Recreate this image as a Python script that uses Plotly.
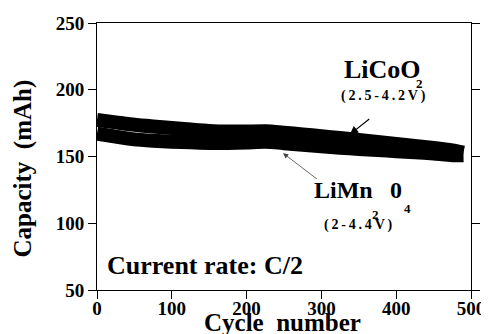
import plotly.graph_objects as go

cycles = [0, 25, 50, 75, 100, 125, 150, 175, 200, 225, 250, 275, 300, 325, 350, 375, 400, 425, 450, 475, 490]
licoo2 = [177.4, 175.6, 173.8, 172.5, 171.3, 170.2, 169.2, 168.7, 168.7, 168.9, 167.8, 166.5, 165.2,
          163.8, 162.4, 160.9, 159.3, 157.9, 156.4, 154.6, 153.0]
limn2o4 = [167.2, 164.9, 162.8, 161.8, 161.1, 160.6, 160.2, 160.1, 160.4, 161.0, 160.0, 158.8, 157.6,
           156.5, 155.7, 154.8, 154.0, 153.2, 152.2, 151.0, 151.0]

x_ticks = [0, 100, 200, 300, 400, 500]
y_ticks = [50, 100, 150, 200, 250]

SERIF = "Liberation Serif"
TS = "&#8201;"

fig = go.Figure()
fig.add_trace(go.Scatter(x=cycles, y=limn2o4, mode="lines",
                         line=dict(color="black", width=14, shape="spline", smoothing=0.6),
                         showlegend=False))
fig.add_trace(go.Scatter(x=cycles, y=licoo2, mode="lines",
                         line=dict(color="black", width=14, shape="spline", smoothing=0.6),
                         showlegend=False))

def txt(x, y, t, size, xanchor="center", xref="x", yref="y", angle=0):
    fig.add_annotation(x=x, y=y, text=t, showarrow=False, xanchor=xanchor, yanchor="middle",
                       xref=xref, yref=yref, textangle=angle,
                       font=dict(family=SERIF, size=size, color="black", weight="bold"))

txt(381.7, 215.4, "LiCoO", 26)
txt(431.8, 204.9, "2", 13)
txt(383, 195.2, TS.join("(2.5-4.2V)"), 14)
txt(329.5, 124.8, "LiMn", 24)
txt(400, 124.8, "0", 24)
txt(371.7, 106.9, "2", 13)
txt(415, 111, "4", 13)
txt(349, 98.6, TS.join("(2-4.4V)"), 14)
txt(10.7, 68, "Current rate: C/2", 26, xanchor="left")

# axis titles
txt(-0.198, 0.455, "Capacity  (mAh)", 25, xref="paper", yref="paper", angle=-90)
txt(0.497, -0.122, "Cycle  number", 25, xref="paper", yref="paper")

fig.add_annotation(x=338, y=166.5, ax=366, ay=179, axref="x", ayref="y", xref="x", yref="y",
                   text="", showarrow=True, arrowhead=2, arrowsize=1.4, arrowwidth=1.2, arrowcolor="black")
fig.add_annotation(x=248.7, y=152.5, ax=296, ay=132.3, axref="x", ayref="y", xref="x", yref="y",
                   text="", showarrow=True, arrowhead=2, arrowsize=1.3, arrowwidth=0.8, arrowcolor="#444")

axis_common = dict(showline=True, linecolor="black", linewidth=1, automargin=False,
                   ticks="outside", ticklen=8, tickcolor="black", showgrid=False, zeroline=False,
                   tickfont=dict(family=SERIF, size=19, color="black", weight="bold"))

fig.update_xaxes(range=[0, 500], tickvals=x_ticks, ticktext=[str(v) for v in x_ticks],
                 ticklabelstandoff=-7, mirror=True, **axis_common)
fig.update_yaxes(range=[50, 250], tickvals=y_ticks, ticktext=[str(v) for v in y_ticks],
                 mirror="ticks", **axis_common)

# page body adds an 8px offset; margins compensate so the plot area lands where the reference has it
fig.update_layout(width=489, height=334, margin=dict(l=89, r=26, t=15, b=52),
                  plot_bgcolor="white", paper_bgcolor="white")

fig.write_html("out.html")
